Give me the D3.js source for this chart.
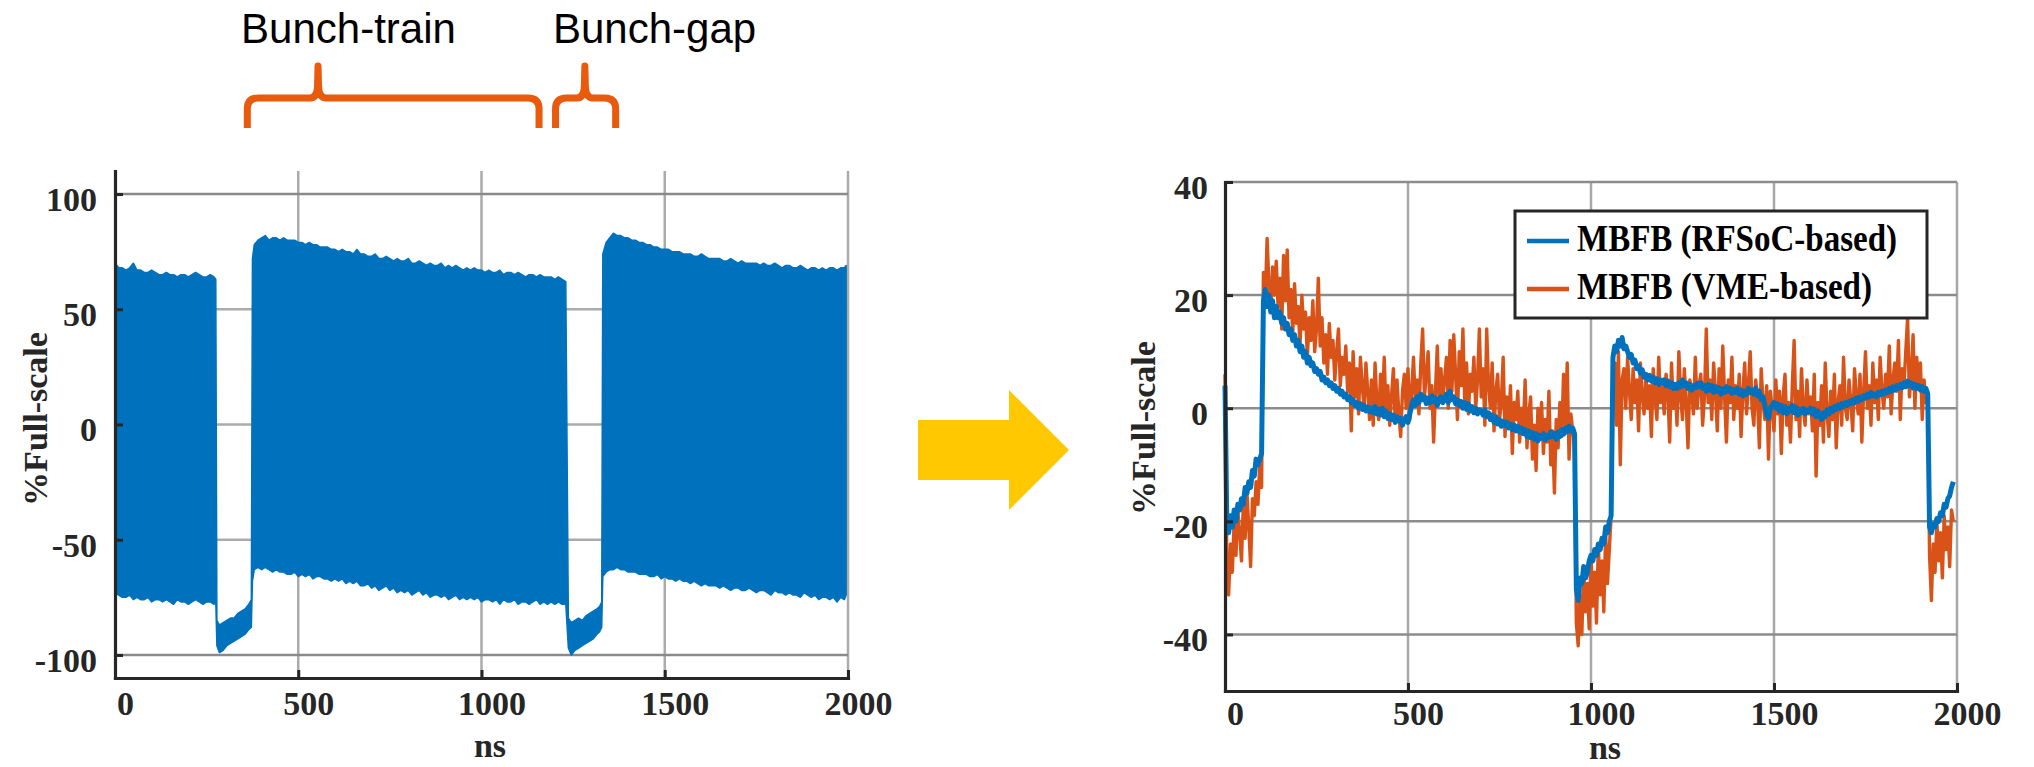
<!DOCTYPE html>
<html>
<head>
<meta charset="utf-8">
<script src="https://cdn.jsdelivr.net/npm/d3@7"></script>
<style>
  body { margin: 0; background: #fff; }
</style>
</head>
<body>
<svg id="chart" width="2034" height="767"></svg>
<script>
// =====================================
// LEFT PANEL : raw bunch signal envelope
// (ns sampling + upper / lower envelope)
// =====================================
var trainANs = d3.range(0, 271, 10).concat([275]);
var trainAUpper = [70, 68, 68, 67, 68, 70, 67, 67, 66, 66, 67, 66, 65, 65, 66, 65, 65, 64, 65, 65,
    64, 65, 66, 65, 64, 64, 65, 64, 63];
var trainALower = [-73, -74, -75, -75, -74, -76, -75, -76, -76, -75, -77, -76, -76, -77, -76, -77, -78, -76, -77, -77,
    -78, -77, -76, -77, -78, -77, -77, -78, -77];

var gapANs = [278, 285, 295, 305, 315, 325, 335, 345, 355, 365, 372];
var gapAUpper = [-85, -87, -86, -85, -84, -84, -82, -81, -80, -78, -76];
var gapALower = [-96, -99, -98, -96, -95, -94, -93, -92, -91, -89, -88];

var trainBNs = [375].concat(d3.range(380, 1231, 10));
var trainBUpper = [72,
    78, 80, 81, 82, 80, 81, 81, 80, 81, 80,
    80, 80, 79, 79, 78, 79, 78, 78, 77, 77,
    77, 76, 76, 75, 76, 75, 75, 74, 76, 74,
    74, 73, 73, 74, 72, 72, 73, 72, 71, 72,
    71, 71, 72, 70, 70, 71, 70, 69, 70, 69,
    69, 70, 68, 69, 68, 69, 68, 67, 68, 67,
    68, 67, 67, 66, 67, 66, 66, 67, 65, 66,
    66, 65, 66, 65, 64, 65, 65, 64, 65, 64,
    64, 64, 63, 64, 63, 62];
var trainBLower = [-68,
    -63, -62, -63, -62, -63, -64, -63, -64, -64, -65,
    -65, -64, -66, -65, -66, -65, -67, -66, -66, -67,
    -67, -68, -67, -68, -67, -69, -68, -69, -68, -70,
    -70, -69, -71, -70, -72, -71, -70, -72, -71, -73,
    -72, -73, -72, -74, -73, -72, -74, -73, -75, -74,
    -74, -75, -74, -76, -75, -74, -76, -75, -76, -75,
    -76, -75, -77, -76, -76, -77, -76, -78, -76, -77,
    -77, -76, -78, -77, -77, -78, -77, -76, -78, -77,
    -78, -77, -78, -77, -78, -78];

var gapBNs = [1237, 1245, 1255, 1265, 1275, 1285, 1295, 1305, 1315, 1322, 1328];
var gapBUpper = [-84, -86, -85, -84, -85, -83, -82, -81, -80, -79, -77];
var gapBLower = [-97, -100, -98, -97, -96, -95, -94, -93, -91, -90, -88];

var trainCNs = [1331].concat(d3.range(1340, 1991, 10), [1995]);
var trainCUpper = [74,
    79, 81, 83, 82, 82, 81, 81, 80, 80, 79,
    79, 78, 78, 77, 77, 76, 76, 76, 75, 75,
    75, 74, 74, 74, 73, 73, 74, 73, 72, 72,
    72, 72, 71, 71, 72, 71, 70, 71, 70, 70,
    70, 70, 69, 70, 69, 69, 70, 69, 68, 69,
    69, 68, 68, 69, 68, 67, 68, 68, 67, 68,
    67, 68, 68, 67, 68, 68,
    69];
var trainCLower = [-66,
    -64, -63, -63, -62, -63, -63, -64, -64, -64, -65,
    -65, -65, -66, -66, -65, -67, -66, -67, -67, -68,
    -67, -68, -68, -69, -68, -69, -70, -69, -70, -70,
    -70, -71, -70, -71, -72, -71, -71, -72, -72, -71,
    -72, -73, -72, -72, -73, -74, -72, -73, -73, -74,
    -73, -74, -74, -75, -73, -74, -75, -74, -76, -75,
    -75, -76, -75, -77, -75, -76,
    -74];

// =====================================
// RIGHT PANEL : filtered signal, 5 ns grid
// =====================================
var sampleNs = d3.range(0, 1991, 5);
var rfsocValues = [
    4, -20, -22, -19, -21, -18, -20, -17, -18, -16, -17, -14, -15, -13, -14, -11, -12, -9, -10, -9,
    -8, 19, 21, 18, 20, 17, 19, 16, 18, 16, 17, 15, 16, 14, 15, 13, 14, 12, 13, 11,
    12, 10, 11, 9, 10, 8, 9, 7.5, 8, 6.5, 7, 6, 6.5, 5, 5.5, 4.5, 5, 4, 4.5, 3.5,
    4, 3, 3.5, 2.5, 3, 2, 2.5, 1.5, 2, 1, 1.5, 0.5, 1, 0, 0.8, -0.2, 0.5, -0.5, 0.2, -0.6,
    0, -0.8, 0.3, -1, -0.2, -1.2, 0, -1.5, -0.5, -1.8, -1, -2, -1.2, -2.5, -1.5, -2.2, -1.8, -3, -2, -1.5,
    -2.5, -1, 0.5, 1.5, 0.5, 2, 1, 2.5, 1.5, 2, 0.8, 1.8, 1, 2.2, 1.2, 1.8, 0.5, 1.5, 2, 1,
    1.5, 2.5, 1, 3, 1.5, 2, 0.8, 1.5, 0.5, 1.2, 0, 1, -0.2, 0.8, -0.5, 0.3, -0.8, 0, -1, -0.3,
    -0.5, -1.2, -0.3, -1.5, -0.8, -2, -1.2, -2.5, -1.5, -2.8, -2, -3.2, -2.3, -3, -2.5, -3.5, -2.8, -3.8, -3, -4,
    -3.2, -4.2, -3.5, -4.5, -3.8, -5, -4, -5.2, -4.3, -5.5, -4.5, -5.8, -4.8, -5.3, -4.5, -5.6, -4.8, -5.2, -4.2, -5,
    -4.5, -5.5, -4.2, -5, -3.8, -4.6, -3.5, -4.2, -3.2, -4, -3.5, -4.5, -32, -34, -30, -31, -28, -30, -29, -27,
    -26, -27, -25, -26, -24, -25, -23, -24, -21, -22, -20, -19, 9, 11, 10, 12, 11, 12.5, 10.5, 11,
    10, 9, 9.5, 8, 8.5, 7, 7.5, 6.2, 6.8, 5.5, 6, 5, 5.8, 4.8, 5.5, 4.5, 5.2, 4.2, 5, 4.5,
    5, 4, 4.8, 3.8, 4.5, 3.5, 4.2, 3.5, 4.5, 3.8, 5, 4, 4.5, 3.5, 4.2, 3.2, 4, 3.6, 4.4, 3.8,
    4.5, 3.5, 4, 3, 4.2, 3.2, 4, 2.8, 3.8, 3, 3.6, 2.5, 3.4, 2.8, 3.8, 3, 3.5, 2.6, 3.3, 2.8,
    3.5, 2.5, 3.2, 2.2, 3, 2.5, 3.5, 2.8, 3.2, 2.5, 3.6, 2.2, 3, 1.5, 2, 0.5, -1.2, -1.8, 0, 0.5,
    1, 0, 0.8, -0.5, 0.5, -0.8, 0.3, -1, 0, -0.5, 0.5, -0.8, 0.2, -1.2, -0.2, -0.8, 0, -1, -0.3, -0.6,
    0, -1, -0.2, -1.5, -0.5, -1.2, -2, -0.8, -1.5, -0.3, -1, 0, -0.6, 0.3, -0.2, 0.6, 0, 0.8, 0.3, 1,
    0.5, 1.2, 0.8, 1.5, 1, 1.8, 1.2, 2, 1.5, 2.2, 1.8, 2.5, 2, 2.8, 2.2, 2.5, 2, 2.8, 2.4, 3,
    2.5, 3.2, 2.8, 3.5, 3, 3.8, 3.2, 4, 3.5, 4.2, 3.6, 4.5, 3.8, 4.8, 4, 4.5, 3.6, 4.2, 3.5, 4,
    3.2, 3.8, 3, 3.5, 2.5, -21, -22, -20.5, -21, -19.5, -20, -18.5, -19, -17, -17.5, -16, -15.5, -14, -13];
var vmeValues = [
    6, -27, -33, -24, -29, -20, -26, -18, -22, -27, -17, -23, -15, -21, -28, -16, -19, -13, -17, -10,
    -14, 24, 19, 30, 22, 17, 25, 20, 26, 18, 23, 14, 27, 19, 28, 16, 21, 13, 22, 15,
    18, 11, 20, 14, 17, 9, 16, 12, 19, 10, 14, 23, 11, 16, 8, 13, 6, 15, 9, 12,
    5, 10, 14, 4, 9, 6, 11, 3, 8, -4, 10, 2, 7, -1, 9, 4, 0, 8, 3, -2,
    5, -3, 8, 1, -2, 6, 0, 9, -1, 4, -3, 2, 7, -2, 5, -1, -5, 3, 6, 0,
    7, -2, 3, 9, 1, 5, -1, 8, 14, 2, 6, 10, 0, 4, -6, 3, 11, 1, 7, 2,
    5, 9, 0, 12, 3, 13, 6, -2, 10, 4, 14, 1, 8, -1, 6, 3, 9, 0, 5, 14,
    2, 7, -3, 14, 4, 0, 8, -4, 3, 6, -2, 1, 9, -5, 2, -3, 4, -8, 1, -2,
    3, -6, 0, -4, 5, -7, -1, 2, -9, -3, -11, 0, -5, 1, -8, -2, -6, 3, -10, -4,
    -15, -2, -7, 1, -5, 6, -3, 8, -9, -1, -4, -6, -38, -42, -33, -40, -28, -36, -31, -39,
    -26, -35, -29, -38, -24, -33, -27, -36, -22, -31, -25, -19, 2, 8, -3, 10, -10, 5, 7, 0,
    9, 3, -2, 7, 1, 5, -4, 8, 2, -1, 6, 0, 4, -5, 7, 2, -2, 9, 1, 4,
    -1, 6, 3, -6, 8, 0, 4, -3, 10, 2, -2, 7, 1, -7, 5, 3, -1, 9, 0, 4,
    6, -3, 2, 14, 1, 5, -2, 8, 3, -4, 7, 0, 11, 2, -6, 5, 1, 9, -2, 4,
    0, 6, -5, 3, 8, -1, 4, 10, 0, -3, 5, 2, -7, 7, 1, -2, 4, -9, 3, 0,
    -4, 5, -1, 3, -8, 2, 6, -3, 1, -6, 4, 12, -2, 3, -5, 7, 0, -3, 5, -1,
    2, -4, 6, -12, 1, -3, 4, -6, 8, -1, -5, 3, -2, 6, -7, 1, 4, -3, 9, 0,
    -2, 5, 1, -4, 7, 2, -1, 6, -6, 3, 10, 0, 4, -3, 8, 1, 5, -2, 9, 3,
    0, 6, 2, 11, -1, 5, 8, 3, 12, -2, 7, 4, 10, 16, 2, 6, 13, 0, 9, 4,
    8, -2, 5, 1, 3, -26, -34, -24, -29, -20, -27, -22, -30, -19, -25, -21, -28, -18, -20];

var seriesNames = ["MBFB (RFSoC-based)", "MBFB (VME-based)"];
var seriesColors = ["#0072BD", "#D95319"];

var nsTicks = [0, 500, 1000, 1500, 2000];
var leftYTicks = [-100, -50, 0, 50, 100];
var rightYTicks = [-40, -20, 0, 20, 40];

// sanity check on hand typed arrays
function checkLen(name, a, b) {
    if (a.length !== b.length) throw new Error(name + ": " + a.length + " vs " + b.length);
}
checkLen("trainA", trainANs, trainAUpper); checkLen("trainA low", trainANs, trainALower);
checkLen("gapA", gapANs, gapAUpper); checkLen("gapA low", gapANs, gapALower);
checkLen("trainB", trainBNs, trainBUpper); checkLen("trainB low", trainBNs, trainBLower);
checkLen("gapB", gapBNs, gapBUpper); checkLen("gapB low", gapBNs, gapBLower);
checkLen("trainC", trainCNs, trainCUpper); checkLen("trainC low", trainCNs, trainCLower);
checkLen("rfsoc", sampleNs, rfsocValues); checkLen("vme", sampleNs, vmeValues);

// ########
// # MAIN #
// ########
var FONT = "'Liberation Serif', 'Times New Roman', serif";
var DARK = "#262626";
var plainNumber = function (d) { return String(d); };   // MATLAB style: 1000, -50

var svg = d3.select("#chart");
svg.append("rect").attr("width", 2034).attr("height", 767).attr("fill", "#ffffff");

var xL = d3.scaleLinear().domain([0, 2000]).range([115, 848]);
var yL = d3.scaleLinear().domain([-110, 110]).range([678, 171]);
var xR = d3.scaleLinear().domain([0, 2000]).range([1225, 1957]);
var yR = d3.scaleLinear().domain([-50, 40]).range([691, 182]);

// ####################################
// # grid lines behind the data
// ####################################
function drawGrid(g, x, y, yTicks, hColor, vColor) {
    g.selectAll("line.v").data(nsTicks.filter(function (d) { return d > 0; }))
        .enter().append("line").attr("class", "v")
        .attr("x1", function (d) { return x(d); })
        .attr("x2", function (d) { return x(d); })
        .attr("y1", y.range()[1])
        .attr("y2", y.range()[0])
        .attr("stroke", vColor)
        .attr("stroke-width", 2.5);
    g.selectAll("line.h").data(yTicks)
        .enter().append("line").attr("class", "h")
        .attr("x1", x.range()[0])
        .attr("x2", x.range()[1])
        .attr("y1", function (d) { return y(d); })
        .attr("y2", function (d) { return y(d); })
        .attr("stroke", hColor)
        .attr("stroke-width", 2.5);
}

// ####################################
// # MATLAB-like axes: inward ticks
// ####################################
function drawAxes(g, x, y, yTicks, xPad, yPad) {
    var ax = g.append("g")
        .attr("transform", "translate(0," + y.range()[0] + ")")
        .call(d3.axisBottom(x).tickValues(nsTicks).tickFormat(plainNumber)
            .tickSize(-8).tickSizeOuter(0).tickPadding(xPad));
    var ay = g.append("g")
        .attr("transform", "translate(" + x.range()[0] + ",0)")
        .call(d3.axisLeft(y).tickValues(yTicks).tickFormat(plainNumber)
            .tickSize(-8).tickSizeOuter(0).tickPadding(yPad));
    [ax, ay].forEach(function (a) {
        a.select(".domain").attr("stroke", DARK).attr("stroke-width", 3.2).attr("stroke-linecap", "square");
        a.selectAll(".tick line").attr("stroke", DARK).attr("stroke-width", 3);
        a.selectAll(".tick text")
            .attr("font-family", FONT)
            .attr("font-weight", "bold")
            .attr("font-size", 34)
            .attr("fill", DARK);
    });
    ax.selectAll(".tick text").attr("dx", 10);
    ay.selectAll(".tick text").attr("dy", "0.48em");
}

function axisTitle(g, text, x, y, rotate) {
    g.append("text")
        .attr("transform", "translate(" + x + "," + y + ")" + (rotate ? " rotate(-90)" : ""))
        .attr("text-anchor", "middle")
        .attr("font-family", FONT)
        .attr("font-weight", "bold")
        .attr("font-size", 34)
        .attr("fill", DARK)
        .text(text);
}

// ---------- left panel ----------
var left = svg.append("g");
drawGrid(left, xL, yL, leftYTicks, "#ababab", "#ababab");
left.selectAll("line.h").filter(function (d) { return Math.abs(d) === 100; }).attr("stroke", "#8a8a8a");

var envelope = [];
[[trainANs, trainAUpper, trainALower], [gapANs, gapAUpper, gapALower],
 [trainBNs, trainBUpper, trainBLower], [gapBNs, gapBUpper, gapBLower],
 [trainCNs, trainCUpper, trainCLower]].forEach(function (seg) {
    seg[0].forEach(function (ns, i) {
        envelope.push({ns: ns, hi: seg[1][i], lo: seg[2][i]});
    });
});

left.append("path")
    .datum(envelope)
    .attr("fill", seriesColors[0])
    .attr("stroke", seriesColors[0])
    .attr("stroke-width", 1.5)
    .attr("stroke-linejoin", "round")
    .attr("d", d3.area()
        .x(function (d) { return xL(d.ns); })
        .y0(function (d) { return yL(d.lo); })
        .y1(function (d) { return yL(d.hi); }));

drawAxes(left, xL, yL, leftYTicks, 13, 18);
axisTitle(left, "ns", 490, 757, false);
axisTitle(left, "%Full-scale", 47, 419, true);

// annotations over the left panel
var brackets = [
    {label: "Bunch-train", from: 361, to: 1157, mid: 554, textAt: 344},
    {label: "Bunch-gap", from: 1202, to: 1366, mid: 1282, textAt: 1195}
];
function bracePath(x0, x1, xm) {
    var yb = 128, yh = 98, yt = 66, r = 11;
    return "M" + x0 + "," + yb + " V" + (yh + r) +
        " Q" + x0 + "," + yh + " " + (x0 + r) + "," + yh +
        " H" + (xm - 8) +
        " Q" + (xm - 1) + "," + yh + " " + (xm - 0.5) + "," + (yh - 12) +
        " L" + xm + "," + yt +
        " L" + (xm + 0.5) + "," + (yh - 12) +
        " Q" + (xm + 1) + "," + yh + " " + (xm + 8) + "," + yh +
        " H" + (x1 - r) +
        " Q" + x1 + "," + yh + " " + x1 + "," + (yh + r) +
        " V" + yb;
}
brackets.forEach(function (b) {
    svg.append("path")
        .attr("d", bracePath(xL(b.from), xL(b.to), xL(b.mid)))
        .attr("fill", "none")
        .attr("stroke", "#E95A0C")
        .attr("stroke-width", 7)
        .attr("stroke-linejoin", "round");
    svg.append("text")
        .attr("x", xL(b.textAt))
        .attr("y", 43)
        .attr("font-family", "'Liberation Sans', Arial, sans-serif")
        .attr("font-size", 42)
        .attr("fill", "#000")
        .text(b.label);
});

// yellow arrow between panels
svg.append("polygon")
    .attr("points", "918,420 1009,420 1009,390 1069,450 1009,510 1009,480 918,480")
    .attr("fill", "#FFC800");

// ---------- right panel ----------
var right = svg.append("g");
drawGrid(right, xR, yR, rightYTicks, "#8c8c8c", "#a8a8a8");

var lineR = function (vals) {
    return d3.line()
        .x(function (d, i) { return xR(sampleNs[i]); })
        .y(function (d) { return yR(d); })(vals);
};
right.append("path")
    .attr("d", lineR(vmeValues))
    .attr("fill", "none")
    .attr("stroke", seriesColors[1])
    .attr("stroke-width", 3.4)
    .attr("stroke-linejoin", "round");
right.append("path")
    .attr("d", lineR(rfsocValues))
    .attr("fill", "none")
    .attr("stroke", seriesColors[0])
    .attr("stroke-width", 5)
    .attr("stroke-linejoin", "round");

drawAxes(right, xR, yR, rightYTicks, 10, 17);
axisTitle(right, "ns", 1605, 759, false);
axisTitle(right, "%Full-scale", 1155, 428, true);

// legend
var legend = right.append("g");
legend.append("rect")
    .attr("x", 1515).attr("y", 211)
    .attr("width", 412).attr("height", 107)
    .attr("fill", "#fff")
    .attr("stroke", DARK)
    .attr("stroke-width", 3);
var legendWidths = [320, 295];
seriesNames.forEach(function (name, i) {
    var cy = 241 + i * 48;
    legend.append("line")
        .attr("x1", 1527).attr("x2", 1569)
        .attr("y1", cy).attr("y2", cy)
        .attr("stroke", seriesColors[i])
        .attr("stroke-width", 4.5);
    legend.append("text")
        .attr("x", 1577).attr("y", cy + 10)
        .attr("font-family", FONT)
        .attr("font-weight", "bold")
        .attr("font-size", 37)
        .attr("textLength", legendWidths[i])
        .attr("lengthAdjust", "spacingAndGlyphs")
        .attr("fill", "#000")
        .text(name);
});
</script>
</body>
</html>
